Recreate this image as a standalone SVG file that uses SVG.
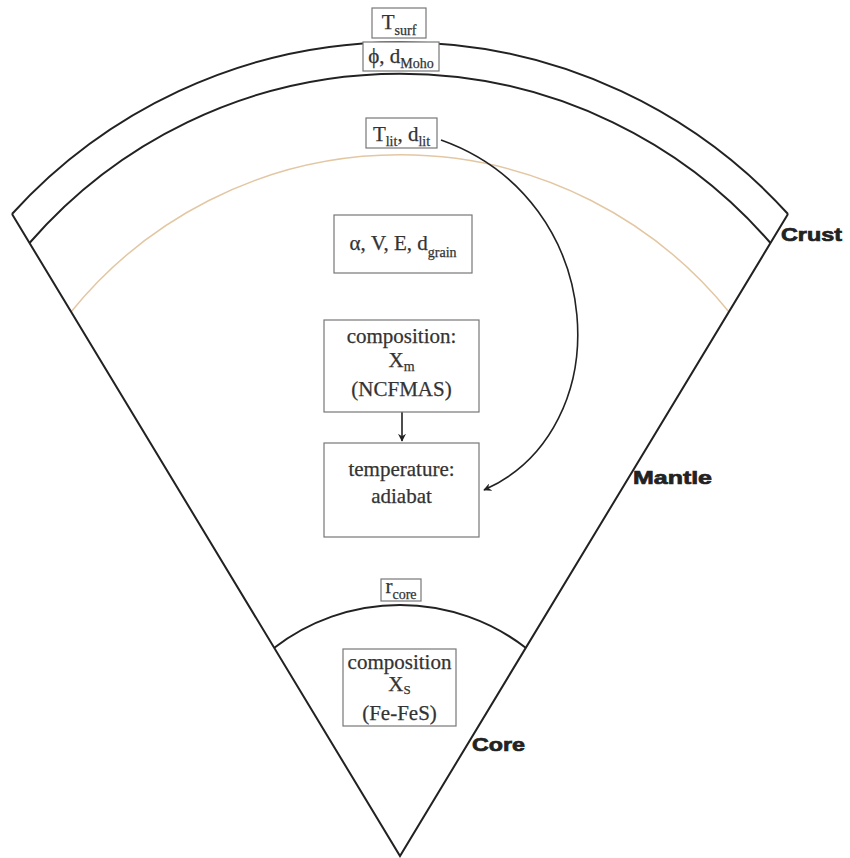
<svg xmlns="http://www.w3.org/2000/svg" width="850" height="858" viewBox="0 0 850 858">
<style>
.arc{fill:none;stroke:#222;stroke-width:2}
.box{fill:#fff;stroke:#777;stroke-width:1.2}
.t{font-family:"Liberation Serif","DejaVu Serif",serif;font-size:21px;fill:#333;text-anchor:middle;stroke:#333;stroke-width:0.25}
.s{font-size:14px}
.lab{font-family:"Liberation Sans",Arial,sans-serif;font-weight:bold;font-size:19px;fill:#222;stroke:#222;stroke-width:0.7}
.con{fill:none;stroke:#222;stroke-width:1.6}
</style>
<defs>
<marker id="ah" viewBox="0 0 10 10" refX="9" refY="5" markerWidth="8" markerHeight="8" orient="auto" markerUnits="userSpaceOnUse">
<path d="M0,0 L10,5 L0,10 L3,5 Z" fill="#222"/>
</marker>
</defs>
<g id="wedge">
<path class="arc" d="M12,214 A524,524 0 0 1 788,214"/>
<path class="arc" d="M29.5,243 A490,490 0 0 1 770.5,243"/>
<path d="M71,312 A423,423 0 0 1 729,312" fill="none" stroke="#e3c7a3" stroke-width="1.5"/>
<path class="arc" d="M274,648 A206,206 0 0 1 526,648"/>
<path class="arc" d="M12,214 L400,856 L788,214"/>
</g>
<g id="connectors">
<line class="con" x1="402" y1="412" x2="402" y2="441" marker-end="url(#ah)"/>
<path class="con" d="M441,140 C610,200 620,430 484,490" marker-end="url(#ah)"/>
</g>
<g id="tsurf">
<rect class="box" x="372" y="8" width="54" height="30"/>
<text class="t" x="399" y="29">T<tspan class="s" dy="6">surf</tspan></text>
</g>
<g id="moho">
<rect class="box" x="363" y="42" width="76" height="29"/>
<text class="t" x="401" y="63">ϕ, d<tspan class="s" dy="5">Moho</tspan></text>
</g>
<g id="tlit">
<rect class="box" x="366" y="118" width="71" height="30"/>
<text class="t" x="401.5" y="141">T<tspan class="s" dy="5">lit</tspan><tspan dy="-5">, d</tspan><tspan class="s" dy="5">lit</tspan></text>
</g>
<g id="params">
<rect class="box" x="334" y="215" width="138" height="58"/>
<text class="t" x="403" y="250">α, V, E, d<tspan class="s" dy="7">grain</tspan></text>
</g>
<g id="compm">
<rect class="box" x="324" y="320" width="155" height="92"/>
<text class="t" x="401.5" y="343">composition:</text>
<text class="t" x="401.5" y="367">X<tspan class="s" dy="4">m</tspan></text>
<text class="t" x="401.5" y="396">(NCFMAS)</text>
</g>
<g id="temp">
<rect class="box" x="324" y="443" width="155" height="94"/>
<text class="t" x="401.5" y="476">temperature:</text>
<text class="t" x="401.5" y="503">adiabat</text>
</g>
<g id="rcore">
<rect class="box" x="381" y="579" width="40" height="22"/>
<text class="t" x="401" y="593">r<tspan class="s" dy="6">core</tspan></text>
</g>
<g id="compc">
<rect class="box" x="343" y="649" width="113" height="77"/>
<text class="t" x="399.5" y="669">composition</text>
<text class="t" x="399.5" y="691">X<tspan class="s" dy="3" style="font-size:13px">S</tspan></text>
<text class="t" x="399.5" y="720">(Fe-FeS)</text>
</g>
<g id="labels">
<text class="lab" x="781" y="241" textLength="61" lengthAdjust="spacingAndGlyphs">Crust</text>
<text class="lab" x="633" y="484" textLength="79" lengthAdjust="spacingAndGlyphs">Mantle</text>
<text class="lab" x="472" y="751" textLength="53" lengthAdjust="spacingAndGlyphs">Core</text>
</g>
</svg>
